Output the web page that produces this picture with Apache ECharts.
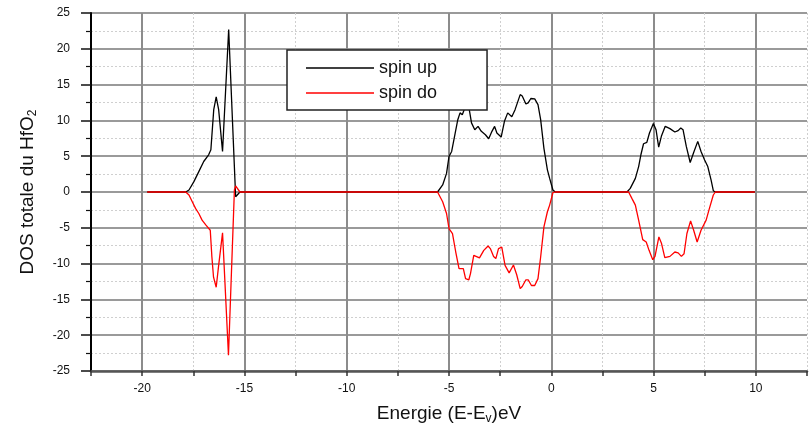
<!DOCTYPE html>
<html>
<head>
<meta charset="utf-8">
<script src="https://cdn.jsdelivr.net/npm/echarts@6/dist/echarts.min.js"></script>
<style>
  html, body { margin: 0; padding: 0; background: #fff; }
  #chart { width: 810px; height: 430px; }
</style>
</head>
<body>
<div id="chart"></div>
<script>
// ---- data ----
const seriesNames = ['spin up', 'spin do'];

const upEnergy = [-19.75, -17.87, -17.71, -17.47, -17.23, -16.99, -16.75, -16.64, -16.5, -16.38, -16.26, -16.07, -15.77, -15.43, -15.22,
  -5.56, -5.31, -5.12, -5.0, -4.87, -4.7, -4.57, -4.46, -4.35, -4.19, -4.05, -3.9, -3.74, -3.58, -3.42, -3.22, -3.06, -2.9, -2.77, -2.66,
  -2.45, -2.29, -2.13, -1.93, -1.77, -1.52, -1.42, -1.24, -1.13, -1.0, -0.81, -0.65, -0.52, -0.36, -0.19, -0.08, 0.08, 0.2,
  3.7, 3.86, 4.11, 4.27, 4.38, 4.51, 4.67, 4.8, 4.99, 5.12, 5.25, 5.39, 5.57, 5.8, 6.04, 6.2, 6.33, 6.44, 6.6, 6.79,
  6.96, 7.16, 7.32, 7.49, 7.65, 7.81, 7.92, 8.02, 9.95];
const upDos = [0, 0, 0.28, 1.45, 2.85, 4.26, 5.2, 5.9, 11.5, 13.3, 11.5, 5.66, 22.7, -0.66, 0,
  0, 0.98, 2.6, 4.96, 5.66, 8.2, 10.1, 11.05, 10.8, 12.0, 12.2, 9.65, 8.7, 9.17, 8.47, 8.0, 7.44, 8.47, 9.17, 8.24,
  7.68, 9.87, 11.05, 10.5, 11.5, 13.6, 13.4, 12.3, 12.45, 13.06, 13.0, 12.2, 10.1, 6.1, 3.1, 1.9, 0.28, 0,
  0, 0.5, 1.9, 3.55, 5.2, 6.74, 6.93, 8.24, 9.55, 8.7, 6.27, 7.87, 9.17, 8.85, 8.38, 8.57, 8.94, 8.7, 6.36, 4.12,
  5.52, 7.07, 5.66, 4.5, 3.55, 1.69, 0.18, 0, 0];

const downEnergy = [-19.75, -17.87, -17.71, -17.55, -17.39, -17.23, -17.07, -16.88, -16.67, -16.59, -16.51, -16.38, -16.27, -16.07, -15.78, -15.49, -15.43, -15.22,
  -5.56, -5.31, -5.12, -5.0, -4.83, -4.67, -4.51, -4.43, -4.3, -4.19, -4.03, -3.95, -3.79, -3.7, -3.51, -3.3, -3.09, -2.98, -2.82, -2.71,
  -2.58, -2.42, -2.26, -2.06, -1.85, -1.69, -1.52, -1.42, -1.24, -1.13, -0.97, -0.81, -0.65, -0.52, -0.36, -0.19, -0.08, 0.08, 0.2,
  3.78, 3.94, 4.11, 4.27, 4.47, 4.64, 4.78, 4.96, 5.07, 5.26, 5.39, 5.55, 5.8, 6.04, 6.2, 6.36, 6.49, 6.63, 6.81, 6.96,
  7.13, 7.32, 7.57, 7.73, 7.92, 8.02, 9.95];
const downDos = [0, 0, -0.42, -1.36, -2.29, -3.0, -3.93, -4.63, -5.34, -9.08, -11.9, -13.3, -10.5, -5.7, -22.8, 0.28, 0.84, 0,
  0, -1.36, -3.0, -5.1, -5.8, -8.38, -10.7, -10.96, -10.7, -12.1, -12.26, -11.4, -8.85, -8.6, -9.2, -8.15, -7.54, -7.9, -9.0, -9.3,
  -7.9, -7.7, -10.25, -11.3, -10.2, -11.56, -13.5, -13.2, -12.26, -12.26, -13.06, -13.06, -12.1, -9.08, -4.87, -2.76, -1.83, -0.1, 0,
  0, -0.89, -1.83, -3.93, -6.65, -6.98, -8.15, -9.45, -8.99, -6.27, -7.2, -9.17, -8.99, -8.38, -8.5, -8.99, -8.62, -5.8, -4.03, -5.34,
  -6.98, -5.34, -3.93, -2.29, -0.42, 0, 0];

const xTitle = 'Energie (E-E{sub|v})eV';
const yTitle = 'DOS totale du HfO{sub|2}';

// ---- chart ----
const FONT = '"Liberation Sans", Arial, sans-serif';
const chart = echarts.init(document.getElementById('chart'), null, { renderer: 'canvas' });

const isMajor = v => Math.abs(v / 5 - Math.round(v / 5)) < 1e-6;
const legendLine = 'path://M68,14 M0,0 M0,6.35 L68,6.35 L68,7.65 L0,7.65 Z';

const option = {
  animation: false,
  backgroundColor: '#ffffff',
  textStyle: { fontFamily: FONT },
  grid: { left: 91, top: 13, right: -5, bottom: 59, containLabel: false },
  legend: {
    data: seriesNames.map(n => ({ name: n, icon: legendLine })),
    orient: 'vertical',
    left: 287, top: 50,
    padding: [9, 50, 8, 19],
    itemWidth: 68, itemHeight: 14, itemGap: 7,
    backgroundColor: '#ffffff',
    borderColor: '#222', borderWidth: 1.5,
    textStyle: { fontSize: 18, color: '#111', fontFamily: FONT }
  },
  xAxis: [
    {
      type: 'value', min: -22.5, max: 12.5, interval: 2.5,
      name: xTitle, nameLocation: 'middle', nameGap: 31,
      nameTextStyle: {
        fontSize: 19, color: '#111', fontFamily: FONT,
        rich: { sub: { fontSize: 12, padding: [11, 0, 0, 0], fontFamily: FONT, color: '#111' } }
      },
      axisLine: { show: true, onZero: false, lineStyle: { color: '#555', width: 2.5 } },
      axisTick: { show: true, inside: false, length: 5, lineStyle: { color: '#333', width: 1.5 } },
      axisLabel: {
        margin: 12, fontSize: 12, color: '#111', fontFamily: FONT,
        formatter: v => (isMajor(v) ? String(Math.round(v)) : '')
      },
      splitLine: { show: true, lineStyle: { color: '#cfcfcf', width: 1, type: [2, 2] } }
    },
    {
      type: 'value', min: -22.5, max: 12.5, interval: 2.5,
      axisLine: { show: false }, axisTick: { show: false }, axisLabel: { show: false },
      splitLine: { show: true, lineStyle: { color: ['rgba(0,0,0,0)', '#8c8c8c'], width: 2 } }
    }
  ],
  yAxis: {
    type: 'value', min: -25, max: 25, interval: 5,
    name: yTitle, nameLocation: 'middle', nameGap: 52, nameRotate: 90,
    nameTextStyle: {
      fontSize: 19, color: '#111', fontFamily: FONT,
      rich: { sub: { fontSize: 12, padding: [11, 0, 0, 0], fontFamily: FONT, color: '#111' } }
    },
    axisLine: { show: true, onZero: false, lineStyle: { color: '#000', width: 2 } },
    axisTick: { show: true, inside: false, length: 10, lineStyle: { color: '#111', width: 1.5 } },
    minorTick: { show: true, splitNumber: 2, length: 5, lineStyle: { color: '#111', width: 1.2 } },
    axisLabel: { margin: 21, fontSize: 12, color: '#111', fontFamily: FONT },
    splitLine: { show: true, lineStyle: { color: '#9a9a9a', width: 2 } },
    minorSplitLine: { show: true, lineStyle: { color: '#cfcfcf', width: 1, type: [2, 2] } }
  },
  series: [
    {
      name: seriesNames[0], type: 'line', xAxisIndex: 0,
      data: upEnergy.map((e, i) => [e, upDos[i]]),
      symbol: 'none', showSymbol: false, smooth: false,
      lineStyle: { color: '#000000', width: 1.3 }, itemStyle: { color: '#000000' },
      z: 3
    },
    {
      name: seriesNames[1], type: 'line', xAxisIndex: 0,
      data: downEnergy.map((e, i) => [e, downDos[i]]),
      symbol: 'none', showSymbol: false, smooth: false,
      lineStyle: { color: '#ff0000', width: 1.3 }, itemStyle: { color: '#ff0000' },
      z: 4
    }
  ]
};
chart.setOption(option);
</script>
</body>
</html>
